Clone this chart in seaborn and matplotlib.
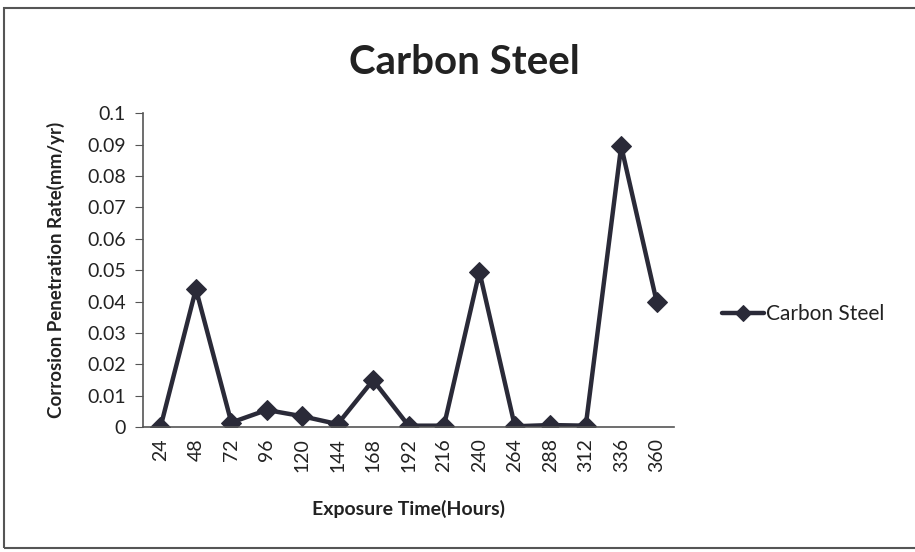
import pandas as pd
import matplotlib.pyplot as plt
import matplotlib.patches as mpatches
import seaborn as sns

# data
hours = ['24', '48', '72', '96', '120', '144', '168', '192', '216', '240',
         '264', '288', '312', '336', '360']
rate = [0.0, 0.044, 0.0015, 0.0055, 0.0035, 0.001, 0.015, 0.0005, 0.0005,
        0.0495, 0.0003, 0.0007, 0.0005, 0.0895, 0.04]
yticks = [0, 0.01, 0.02, 0.03, 0.04, 0.05, 0.06, 0.07, 0.08, 0.09, 0.1]
ytick_labels = ['0', '0.01', '0.02', '0.03', '0.04', '0.05', '0.06', '0.07',
                '0.08', '0.09', '0.1']

df = pd.DataFrame({'pos': range(len(hours)), 'rate': rate})

sns.set_style('white')
plt.rcParams['font.family'] = ['Lato', 'DejaVu Sans']

fig = plt.figure(figsize=(9.15, 5.52), dpi=100)
ax = fig.add_axes([0.156, 0.226, 0.581, 0.569])

line_col = '#2a2a38'
sns.lineplot(data=df, x='pos', y='rate', ax=ax, color=line_col, linewidth=3.2,
             marker='D', markersize=10, markeredgecolor=line_col,
             label='Carbon Steel')

ax.set_xlim(-0.5, len(hours) - 0.5)
ax.set_ylim(0, 0.1)
ax.set_yticks(yticks)
ax.set_yticklabels(ytick_labels, fontsize=14, color='#222222')
ax.set_xticks(range(len(hours)))
ax.set_xticklabels(hours, rotation=90, fontsize=14, color='#222222')
ax.set_xticks([i - 0.5 for i in range(len(hours) + 1)], minor=True)
ax.tick_params(axis='x', which='major', length=0, pad=8)
ax.tick_params(axis='x', which='minor', length=6, color='#555555', direction='out')
ax.tick_params(axis='y', length=6, color='#555555', direction='out', left=True, pad=6)

for side in ['top', 'right']:
    ax.spines[side].set_visible(False)
for side in ['left', 'bottom']:
    ax.spines[side].set_color('#555555')
    ax.spines[side].set_linewidth(1.2)

ax.set_xlabel('Exposure Time(Hours)', fontsize=14, fontweight='bold', color='#222222',
              labelpad=20)
ax.set_ylabel('Corrosion Penetration Rate(mm/yr)', fontsize=13.5, fontweight='bold',
              color='#222222', labelpad=16)
fig.suptitle('Carbon Steel', x=0.508, y=0.92, fontsize=29, fontweight='bold',
             color='#222222')

leg = ax.legend(loc='center left', bbox_to_anchor=(1.055, 0.36), frameon=False,
                fontsize=15, handlelength=2.0, handletextpad=0.1, markerscale=0.8)
for t in leg.get_texts():
    t.set_color('#222222')

# outer frame of the chart
fig.patches.append(mpatches.Rectangle((0.004, 0.008), 1.2, 0.978, transform=fig.transFigure,
                                      fill=False, edgecolor='#555555', linewidth=1.5))

plt.savefig('out.png', dpi=100)
